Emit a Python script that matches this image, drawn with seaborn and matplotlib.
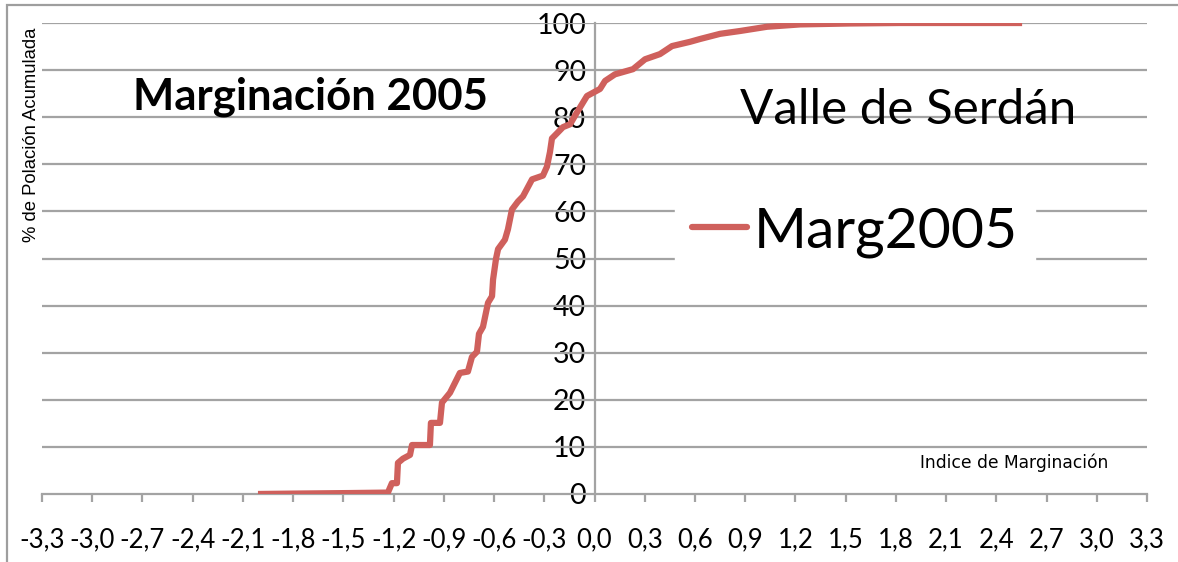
import numpy as np
import pandas as pd
import matplotlib
matplotlib.use("Agg")
import matplotlib.pyplot as plt
import seaborn as sns
from matplotlib.patches import Rectangle
from matplotlib.ticker import FixedLocator, FixedFormatter

# Cumulative population (%) against the marginalization index
indice = [-2.010, -1.759, -1.461, -1.234, -1.210, -1.180, -1.174, -1.144, -1.102,
          -1.090, -0.983, -0.977, -0.923, -0.911, -0.863, -0.804, -0.756, -0.732,
          -0.702, -0.690, -0.666, -0.636, -0.612, -0.606, -0.588, -0.576, -0.535,
          -0.517, -0.493, -0.457, -0.427, -0.373, -0.308, -0.284, -0.266, -0.254,
          -0.218, -0.188, -0.146, -0.105, -0.045, 0.033, 0.063, 0.122, 0.230,
          0.302, 0.391, 0.463, 0.570, 0.630, 0.750, 0.869, 1.030, 1.228, 1.526,
          1.825, 2.554]
poblacion = [0.0, 0.1, 0.2, 0.3, 2.3, 2.3, 6.6, 7.5, 8.3,
             10.4, 10.4, 15.1, 15.1, 19.4, 21.5, 25.7, 26.0, 29.1,
             30.2, 34.0, 35.5, 40.6, 42.0, 45.5, 50.0, 52.0, 54.0,
             56.2, 60.4, 62.1, 63.2, 66.8, 67.6, 69.5, 72.6, 75.5,
             76.8, 77.9, 78.5, 81.0, 84.5, 86.0, 87.7, 89.1, 90.2,
             92.3, 93.4, 95.1, 96.0, 96.6, 97.7, 98.3, 99.2, 99.7, 99.9,
             100.0, 100.0]

x_ticks = [round(-3.3 + 0.3 * i, 1) for i in range(23)]
x_labels = [f"{v:.1f}".replace(".", ",") for v in x_ticks]
y_ticks = list(range(0, 101, 10))

df = pd.DataFrame({"Indice": indice, "Poblacion": poblacion, "Serie": "Marg2005"})

sns.set_theme(style="white")
plt.rcParams["font.family"] = ["Lato", "DejaVu Sans"]
plt.rcParams["text.color"] = "black"

line_color = "#CF605C"
grid_color = "#A3A3A3"

fig = plt.figure(figsize=(11.78, 5.62), dpi=100)
ax = fig.add_axes([42 / 1178, 1 - 494 / 562, (1147 - 42) / 1178, (494 - 23) / 562])

ax.set_xlim(-3.3, 3.3)
ax.set_ylim(0, 100)

for yv in y_ticks[1:]:
    ax.axhline(yv, color=grid_color, lw=1.6, zorder=1)

sns.lineplot(data=df, x="Indice", y="Poblacion", hue="Serie", palette=[line_color],
             sort=False, estimator=None, lw=4.5, ax=ax, zorder=3,
             solid_capstyle="butt")

ax.spines["top"].set_visible(False)
ax.spines["right"].set_visible(False)
ax.spines["left"].set_position(("data", 0))
for s in ("left", "bottom"):
    ax.spines[s].set_color(grid_color)
    ax.spines[s].set_linewidth(1.6)
    ax.spines[s].set_zorder(2)

ax.xaxis.set_major_locator(FixedLocator(x_ticks))
ax.xaxis.set_major_formatter(FixedFormatter(x_labels))
ax.set_yticks(y_ticks)
ax.tick_params(axis="x", direction="out", length=6, width=1.6, color=grid_color,
               labelsize=18.5, pad=18, labelcolor="black", bottom=True)
ax.tick_params(axis="y", direction="out", length=0, labelsize=20.5, pad=6,
               labelcolor="black", left=True)
ax.set_xlabel("")
ax.set_ylabel("")

leg = ax.legend(loc="center", bbox_to_anchor=(855 / 1178, 1 - 232 / 562),
                bbox_transform=fig.transFigure, frameon=True, fontsize=41,
                handlelength=0.95, handletextpad=0.12, borderpad=0.3, fancybox=False,
                borderaxespad=0, labelcolor="black")
leg.get_frame().set_edgecolor("white")
leg.get_frame().set_facecolor("white")
leg.get_frame().set_alpha(1)
leg.get_frame().set_width(leg.get_frame().get_width())
for h in leg.get_lines():
    h.set_linewidth(4.5)
    h.set_solid_capstyle("round")

fig.text(133 / 1178, 1 - 97 / 562, "Marginación 2005", fontsize=31.5, fontweight="bold",
         va="center", ha="left", color="black")
fig.text(740 / 1178, 1 - 110 / 562, "Valle de Serdán", fontsize=35.5,
         va="center", ha="left", color="black")
fig.text(920 / 1178, 1 - 463 / 562, "Indice de Marginación", fontsize=12.3,
         va="center", ha="left", color="black", family="DejaVu Sans")
fig.text(32 / 1178, 1 - 135 / 562, "% de Polación Acumulada", fontsize=13.3,
         rotation=90, va="center", ha="center", family="Liberation Sans", color="black")

# Chart area border
fig.patches.append(Rectangle((7 / 1178, -0.1), 1.2, 1 - 5 / 562 + 0.1,
                             transform=fig.transFigure, fill=False,
                             edgecolor="#9E9E9E", lw=1.6))

fig.savefig("out.png", dpi=100)
